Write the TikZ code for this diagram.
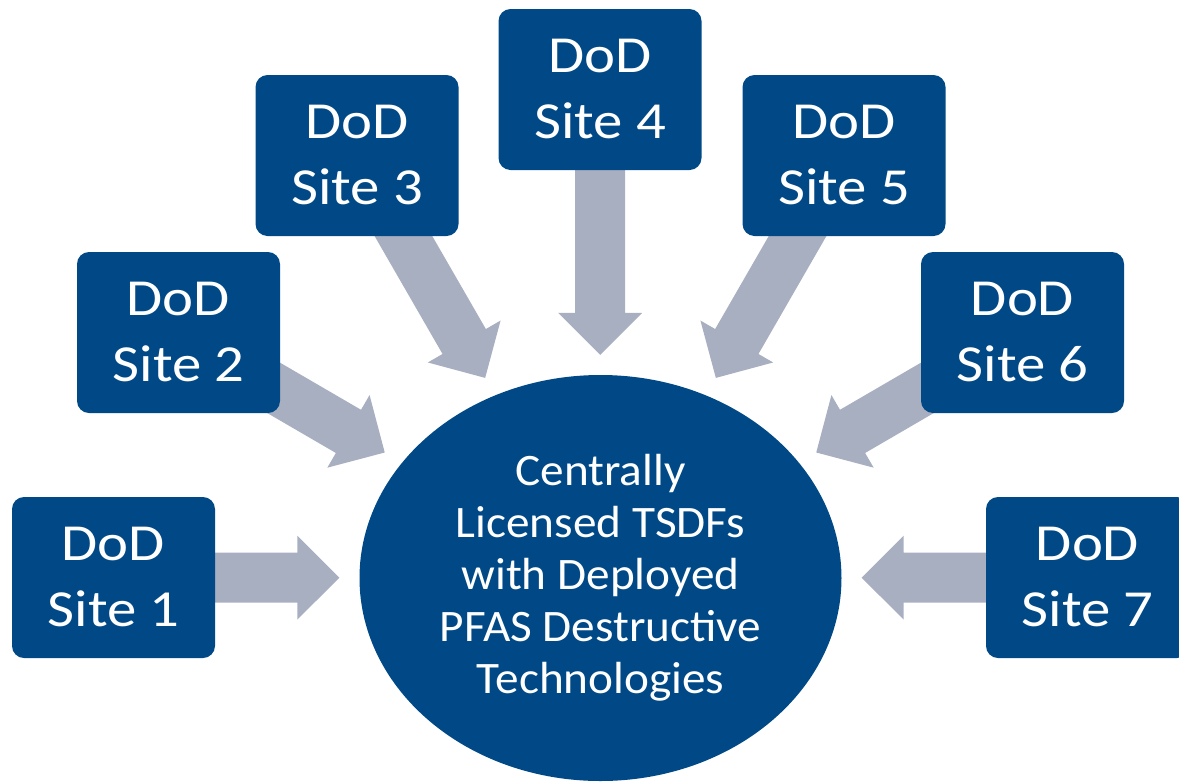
\documentclass[tikz,border=0pt]{standalone}
\usepackage{fontspec}
\setmainfont{Carlito}
\newfontfamily\sitefont{Carlito}[FakeStretch=1.13]
\newfontfamily\hubfont{Carlito}[FakeStretch=1.05]
\usepackage{tikz}
\usetikzlibrary{shapes.geometric, calc, backgrounds}
\definecolor{dodblue}{RGB}{1,73,134}
\definecolor{arrowgray}{RGB}{168,175,193}

% block arrow from #1 to tip #2
\newcommand{\blockarrow}[2]{%
    \coordinate (hb) at ($(#2)!42pt!(#1)$);
    \fill[arrowgray] ($(#1)!25pt!90:(#2)$) -- ($(hb)!25pt!-90:(#1)$)
        -- ($(hb)!42pt!-90:(#1)$) -- (#2) -- ($(hb)!42pt!90:(#1)$)
        -- ($(hb)!25pt!90:(#1)$) -- ($(#1)!25pt!-90:(#2)$) -- cycle;}

\begin{document}
\begin{tikzpicture}[x=1pt, y=-1pt,
    site/.style={rectangle, rounded corners=12pt, fill=dodblue, text=white,
        minimum width=203pt, minimum height=161pt, align=center,
        font=\sitefont\fontsize{52}{66}\selectfont},
    hub/.style={ellipse, fill=dodblue, text=white, inner sep=0pt,
        minimum width=482pt, minimum height=406pt, align=center,
        font=\hubfont\fontsize{45}{52}\selectfont}]
    \clip (0,0) rectangle (1179,782);

    \node[hub]  (tsdf)  at (600.5,578)  {Centrally\\Licensed TSDFs\\with Deployed\\PFAS Destructive\\Technologies};
    \node[site] (site1) at (113.5,577.5) {DoD\\Site 1};
    \node[site] (site2) at (178.5,332.5) {DoD\\Site 2};
    \node[site] (site3) at (357,155.5)   {DoD\\Site 3};
    \node[site] (site4) at (600,89.5)    {DoD\\Site 4};
    \node[site] (site5) at (844,155.5)   {DoD\\Site 5};
    \node[site] (site6) at (1022.5,332.5) {DoD\\Site 6};
    \node[site] (site7) at (1087.5,577.5) {DoD\\Site 7};

    \begin{scope}[on background layer]
        \foreach \i in {1,...,7} {
            \path (site\i) -- (tsdf) coordinate[pos=1] (edge\i);
            \coordinate (tip\i) at ($(edge\i)!20pt!(site\i)$);
            \blockarrow{site\i.center}{tip\i}
        }
    \end{scope}
\end{tikzpicture}
\end{document}
